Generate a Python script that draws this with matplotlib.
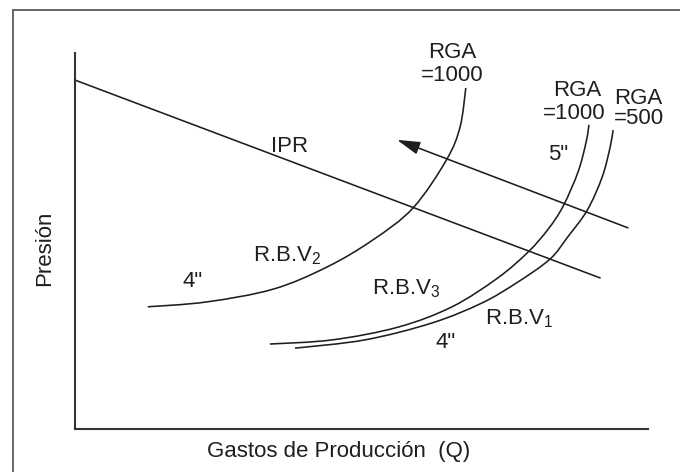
import matplotlib
matplotlib.use("Agg")
import matplotlib.pyplot as plt
from matplotlib.lines import Line2D
from matplotlib.path import Path
from matplotlib.patches import PathPatch

plt.rcParams['font.family'] = ['Liberation Sans', 'DejaVu Sans']
plt.rcParams['mathtext.default'] = 'regular'

# Curves (Q = gasto, P = presión, arbitrary 0-100 units)
ipr_q = [0.0, 91.6]
ipr_p = [92.8, 40.2]

# direction arrow (tail -> head)
arrow_q = [96.5, 56.2]
arrow_p = [53.5, 76.9]

# R.B.V2: 4", RGA = 1000
rbv2_q = [12.7, 23.0, 34.6, 44.0, 52.0, 59.0, 64.8, 67.2, 68.2]
rbv2_p = [32.5, 33.8, 37.2, 43.1, 50.3, 58.8, 71.5, 80.3, 90.7]

# R.B.V3: 5", RGA = 1000
rbv3_q = [34.0, 44.9, 56.4, 65.8, 73.8, 79.1, 82.6, 85.2, 87.8, 89.2, 89.7]
rbv3_p = [22.6, 23.7, 27.1, 32.5, 40.2, 47.1, 53.2, 59.3, 68.4, 76.3, 80.9]

# R.B.V1: 4", RGA = 500
rbv1_q = [38.4, 50.6, 62.3, 71.0, 77.3, 82.9, 86.0, 89.4, 92.0, 93.4, 93.9]
rbv1_p = [21.5, 23.7, 28.2, 33.5, 39.1, 45.2, 51.1, 58.2, 67.0, 75.0, 79.5]


def smooth_path(q, p):
    # Catmull-Rom through the read points, drawn as cubic Bezier segments
    pts = list(zip(q, p))
    ext = [pts[0]] + pts + [pts[-1]]
    verts = [pts[0]]
    codes = [Path.MOVETO]
    for i in range(1, len(ext) - 2):
        p0, p1, p2, p3 = ext[i - 1], ext[i], ext[i + 1], ext[i + 2]
        c1 = (p1[0] + (p2[0] - p0[0]) / 6, p1[1] + (p2[1] - p0[1]) / 6)
        c2 = (p2[0] - (p3[0] - p1[0]) / 6, p2[1] - (p3[1] - p1[1]) / 6)
        verts += [c1, c2, p2]
        codes += [Path.CURVE4] * 3
    return Path(verts, codes)


W, H = 680, 472
fig = plt.figure(figsize=(W / 100, H / 100), dpi=100)
ax = fig.add_axes([75 / W, (H - 429) / H, 573 / W, 376 / H])

ink = "#1e1e1e"
lw = 1.15

ax.plot(ipr_q, ipr_p, color=ink, lw=lw)
ax.annotate("", xy=(arrow_q[1], arrow_p[1]), xytext=(arrow_q[0], arrow_p[0]),
            arrowprops=dict(arrowstyle="-|>,head_length=1.0,head_width=0.28",
                            mutation_scale=14, color=ink, lw=lw,
                            shrinkA=0, shrinkB=0))
for q, p in [(rbv2_q, rbv2_p), (rbv3_q, rbv3_p), (rbv1_q, rbv1_p)]:
    ax.add_patch(PathPatch(smooth_path(q, p), fill=False, edgecolor=ink,
                           lw=lw, capstyle="butt"))

ax.set_xlim(0, 100)
ax.set_ylim(0, 100)
ax.set_xticks([])
ax.set_yticks([])
for s in ["top", "right"]:
    ax.spines[s].set_visible(False)
for s in ["left", "bottom"]:
    ax.spines[s].set_color("#333333")
    ax.spines[s].set_linewidth(1.5)

fs = 16
txt = dict(color=ink, fontsize=fs, clip_on=False)
ax.text(65.8, 100.0, "RGA", ha="center", va="center", **txt)
ax.text(65.8, 93.9, "=1000", ha="center", va="center", **txt)
ax.text(87.6, 89.9, "RGA", ha="center", va="center", **txt)
ax.text(87.1, 84.0, "=1000", ha="center", va="center", **txt)
ax.text(98.3, 87.8, "RGA", ha="center", va="center", **txt)
ax.text(98.4, 82.7, "=500", ha="center", va="center", **txt)
ax.text(84.3, 72.9, '5"', ha="center", va="center", **txt)
ax.text(37.5, 75.0, "IPR", ha="center", va="center", **txt)
ax.text(31.1, 44.7, r"R.B.V$_2$", ha="left", va="baseline", **txt)
ax.text(20.6, 39.1, '4"', ha="center", va="center", **txt)
ax.text(51.8, 35.9, r"R.B.V$_3$", ha="left", va="baseline", **txt)
ax.text(71.6, 27.7, r"R.B.V$_1$", ha="left", va="baseline", **txt)
ax.text(64.6, 22.9, '4"', ha="center", va="center", **txt)

fig.text(45 / W, 1 - 248 / H, "Presión", rotation=90, ha="center", va="center",
         color=ink, fontsize=fs)
fig.text(339 / W, 1 - 452 / H, "Gastos de Producción  (Q)", ha="center", va="center",
         color=ink, fontsize=fs)

# outer frame (right and bottom edges fall outside the image)
frame = dict(color="#666666", lw=1.4, transform=fig.transFigure)
fig.add_artist(Line2D([12.5 / W, 12.5 / W], [0, 1 - 10 / H], **frame))
fig.add_artist(Line2D([12.5 / W, 1], [1 - 10 / H, 1 - 10 / H], **frame))

fig.savefig("out.png", dpi=100)
